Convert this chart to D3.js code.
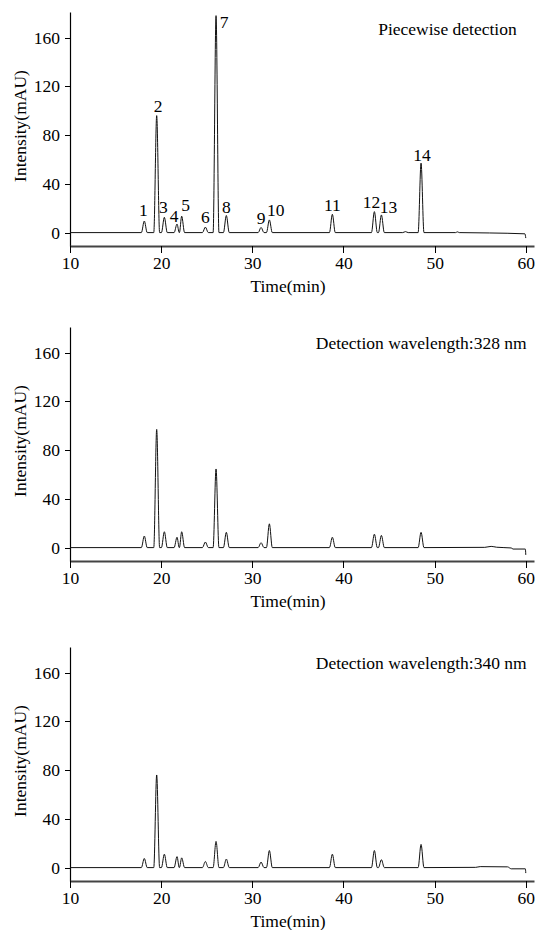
<!DOCTYPE html>
<html>
<head>
<meta charset="utf-8">
<script src="https://cdn.jsdelivr.net/npm/d3@7"></script>
<style>
  body { margin: 0; background: #fff; }
  text { font-family: "Liberation Serif", "Times New Roman", serif; fill: #000; }
</style>
</head>
<body>
<div id="chart"></div>
<script>
// Chromatograms, three detection modes

// Data

// Peak numbers and retention times (min)
var peakNo = [1, 2, 3, 4, 5, 6, 7, 8, 9, 10, 11, 12, 13, 14];
var peakTime = [18.15, 19.51, 20.35, 21.74, 22.25, 24.85, 26.02, 27.15, 30.96, 31.87, 38.78, 43.39, 44.16, 48.51];

// Peak heights (mAU) per panel
var heightPiecewise = [9.5, 96, 12.5, 7, 13.5, 4.5, 178, 14, 4.2, 10.4, 15, 17.2, 14.5, 57];
var height328 = [9.5, 97, 13, 8.5, 13, 4.6, 64.5, 12.5, 4, 19.5, 8.5, 11, 10, 12.5];
var height340 = [7.5, 76, 11, 9, 8, 5, 21.5, 7, 4.5, 14, 11, 14, 6.5, 19];

// Baseline drift points [time, mAU] per panel
var driftPiecewise = [[10, 0], [46.5, 0], [46.8, 0.8], [47.1, 0], [52.3, 0], [52.5, 0.6], [52.7, 0], [56, -0.3], [59.9, -1], [60, -4.5]];
var drift328 = [[10, 0], [55.5, 0.2], [56.2, 1], [56.8, 0.3], [58.4, -0.3], [58.6, -1.2], [59.95, -1.2], [60, -6]];
var drift340 = [[10, 0], [54.5, 0.2], [55, 0.8], [58, 0.6], [58.4, -1], [59.95, -1], [60, -4.5]];

// Panel titles
var panelTitle = ["Piecewise detection", "Detection wavelength:328 nm", "Detection wavelength:340 nm"];

// Tick labels
var xTicks = [10, 20, 30, 40, 50, 60];
var yTicks = [0, 40, 80, 120, 160];

// Layout

var width = 542;
var height = 930;
var panelTop = [12, 327, 647];
var plotH = 234;
var titleRight = [516.7, 526.7, 526.7];
var titleY = [23, 21.5, 21.5];
var halfWidth = 0.32;
var fontFamily = "'Liberation Serif', 'Times New Roman', serif";
var fontSize = "17.5px";

// Peak label nudges (panel 1)
var labelDx = [-1, 1.5, -1, -3, 4, 0, 8, 0, 0, 6.4, 0, -3, 7, 1];
var labelDy = [-5, -4, -4.5, -2.5, -5.5, -4, 12.6, -3, -3.6, -4, -3, -3.4, -2, -2.5];

var svg = d3
  .select("#chart")
  .append("svg")
  .attr("width", width)
  .attr("height", height)
  .attr("font-family", fontFamily);

svg.append("rect").attr("width", width).attr("height", height).attr("fill", "#fff");

var xScale = d3.scaleLinear().domain([10, 60.9]).range([70, 534]);
var yScale = d3.scaleLinear().domain([-11, 181]).range([plotH, 0]);

var line = d3
  .line()
  .x(function(d) { return xScale(d[0]); })
  .y(function(d) { return yScale(d[1]); })
  .curve(d3.curveMonotoneX);

// Build the trace from baseline points and peaks
function tracePoints(heights, drift) {
  var pts = drift.slice();
  peakTime.forEach(function(t, i) {
    var left = halfWidth;
    var right = halfWidth;
    if (i > 0) left = Math.min(left, (t - peakTime[i - 1]) / 2 - 0.01);
    if (i < peakTime.length - 1) right = Math.min(right, (peakTime[i + 1] - t) / 2 - 0.01);
    pts.push([t - left, 0]);
    pts.push([t, heights[i]]);
    pts.push([t + right, 0]);
  });
  pts.sort(function(a, b) { return a[0] - b[0]; });
  return pts;
}

var panels = [
  { heights: heightPiecewise, drift: driftPiecewise },
  { heights: height328, drift: drift328 },
  { heights: height340, drift: drift340 }
];

panels.forEach(function(p, k) {
  var g = svg.append("g").attr("transform", "translate(0," + panelTop[k] + ")");

  // Axes
  var yAxis = d3.axisLeft(yScale).tickValues(yTicks).tickSize(5).tickSizeOuter(0).tickPadding(5);
  var xAxis = d3.axisBottom(xScale).tickValues(xTicks).tickSize(7).tickSizeOuter(0).tickPadding(4);

  var gy = g.append("g").attr("transform", "translate(70,0)").call(yAxis);
  var gx = g.append("g").attr("transform", "translate(0," + plotH + ")").call(xAxis);

  [gx, gy].forEach(function(a) {
    a.attr("font-family", fontFamily).attr("font-size", 17.5);
    a.selectAll("text").style("font-family", fontFamily).style("font-size", fontSize);
    a.selectAll("line").attr("stroke", "#000").attr("shape-rendering", "crispEdges");
  });
  gy.select(".domain").attr("stroke", "#000").attr("stroke-width", 1.2);
  gx.select(".domain").attr("stroke", "#444").attr("stroke-width", 2);

  // Trace
  g.append("path")
    .datum(tracePoints(p.heights, p.drift))
    .attr("d", line)
    .attr("fill", "none")
    .attr("stroke", "#111")
    .attr("stroke-width", 1);

  // Axis titles
  g.append("text")
    .attr("x", 288)
    .attr("y", plotH + 46)
    .attr("text-anchor", "middle")
    .style("font-size", fontSize)
    .text("Time(min)");

  g.append("text")
    .attr("transform", "translate(26,114)rotate(-90)")
    .attr("text-anchor", "middle")
    .style("font-size", fontSize)
    .text("Intensity(mAU)");

  // Panel title
  g.append("text")
    .attr("x", titleRight[k])
    .attr("y", titleY[k])
    .attr("text-anchor", "end")
    .style("font-size", fontSize)
    .text(panelTitle[k]);

  // Peak numbers on the first panel
  if (k === 0) {
    g.selectAll(".peakLabel")
      .data(peakNo)
      .enter()
      .append("text")
      .attr("class", "peakLabel")
      .attr("x", function(d, i) { return xScale(peakTime[i]) + labelDx[i]; })
      .attr("y", function(d, i) { return yScale(p.heights[i]) + labelDy[i]; })
      .attr("text-anchor", "middle")
      .style("font-size", fontSize)
      .text(function(d) { return d; });
  }
});
</script>
</body>
</html>
